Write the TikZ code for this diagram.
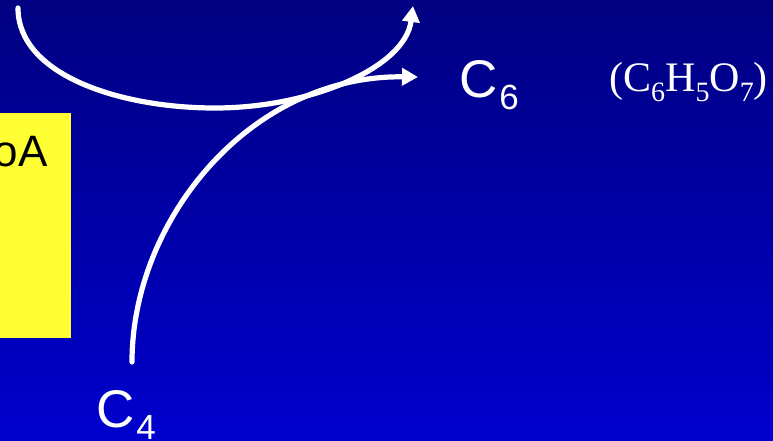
\documentclass[tikz,border=0pt]{standalone}
\usepackage{fontspec}
\setmainfont{Liberation Sans}
\newfontfamily\timesf{Liberation Serif}
\usetikzlibrary{arrows.meta}
\definecolor{bgtop}{RGB}{0,0,128}
\definecolor{bgbot}{RGB}{0,0,206}
\definecolor{ybox}{RGB}{255,255,51}
\newcommand{\bigsub}[1]{\kern2pt\raisebox{-12pt}{\fontsize{35}{35}\selectfont #1}}
\newcommand{\smallsub}[1]{\raisebox{-10pt}{\fontsize{28}{28}\selectfont #1}}
\begin{document}
\begin{tikzpicture}[x=1pt,y=-1pt,
  flow/.style={draw=white, line width=5.2pt, line cap=round},
  tipped/.style={-{Triangle[width=17pt,length=16pt]}},
  lbl/.style={text=white, inner sep=0pt, anchor=base west},
  big/.style={font=\fontsize{53}{53}\selectfont},
]
\shade[top color=bgtop, bottom color=bgbot] (0,0) rectangle (773,441);
\useasboundingbox (0,0) rectangle (773,441);
\node[fill=ybox, minimum width=71pt, minimum height=225pt, anchor=north west, inner sep=0pt] (box) at (0,113) {};
\node[anchor=base east, inner sep=0pt, font=\fontsize{44}{44}\selectfont] (coa) at (48,166) {oA};
\node[lbl, big] (c6) at (459,98) {C\bigsub{6}};
\node[lbl, big] (c4) at (96,427) {C\bigsub{4}};
\node[lbl, font=\timesf\fontsize{42}{42}\selectfont] (cit) at (609,92) {(C\smallsub{6}H\smallsub{5}O\smallsub{7})};
\coordinate (s1) at (18,8);
\coordinate (m1) at (215,108);
\coordinate (e1) at (413,6);
\coordinate (s2) at (132,362);
\coordinate (e2) at (418,77);
\draw[flow, tipped] (s2) .. controls (132,220) and (250,75) .. (e2);
\draw[flow, tipped] (s1) .. controls (18,75) and (120,108) .. (m1)
  .. controls (310,108) and (405,68) .. (e1);
\end{tikzpicture}
\end{document}
